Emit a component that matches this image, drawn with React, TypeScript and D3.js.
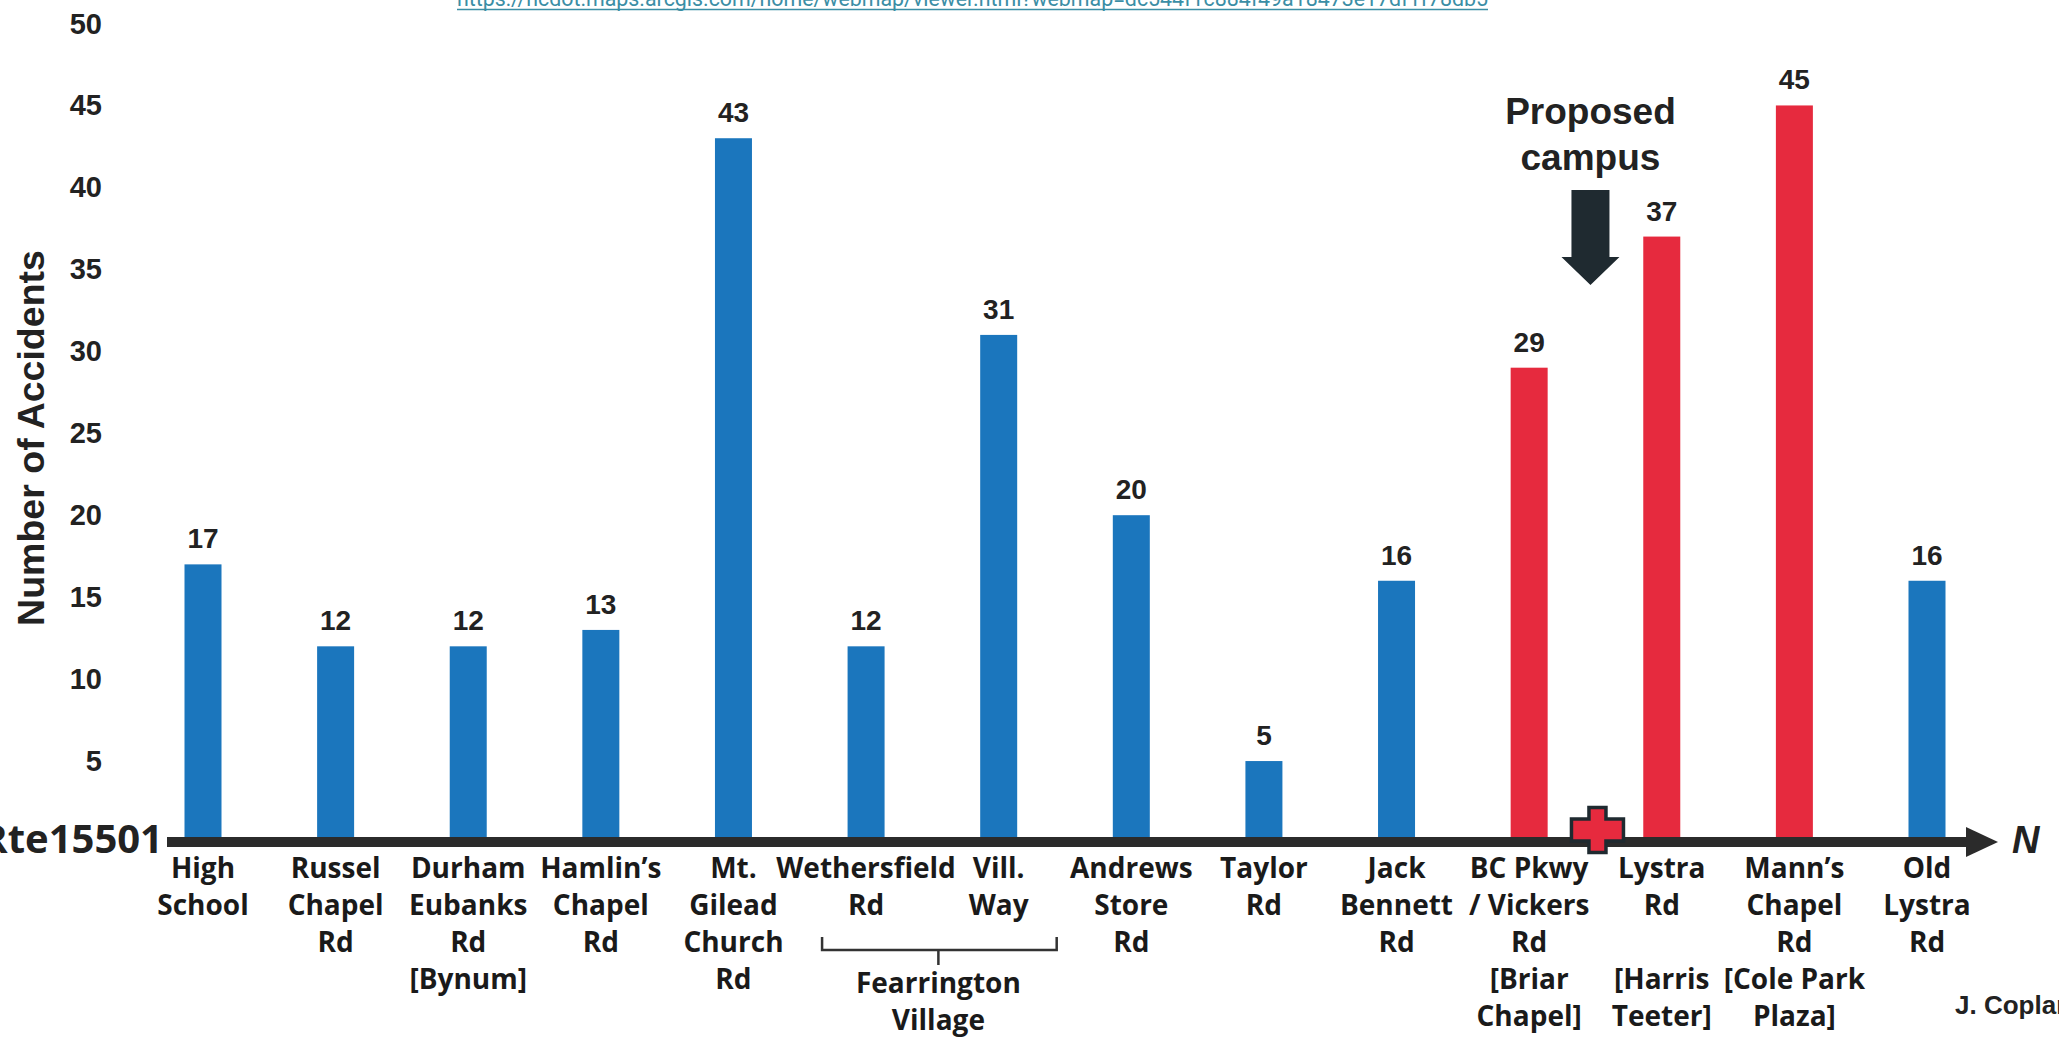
import React, { useEffect } from "react";
import * as d3 from "d3";

const categories = [
  "High School", "Russel Chapel Rd", "Durham Eubanks Rd", "Hamlin's Chapel Rd",
  "Mt. Gilead Church Rd", "Wethersfield Rd", "Vill. Way", "Andrews Store Rd",
  "Taylor Rd", "Jack Bennett Rd", "BC Pkwy / Vickers Rd", "Lystra Rd",
  "Mann's Chapel Rd", "Old Lystra Rd",
];
const labelLines: string[][] = [
  ["High", "School"],
  ["Russel", "Chapel", "Rd"],
  ["Durham", "Eubanks", "Rd", "[Bynum]"],
  ["Hamlin\u2019s", "Chapel", "Rd"],
  ["Mt.", "Gilead", "Church", "Rd"],
  ["Wethersfield", "Rd"],
  ["Vill.", "Way"],
  ["Andrews", "Store", "Rd"],
  ["Taylor", "Rd"],
  ["Jack", "Bennett", "Rd"],
  ["BC Pkwy", "/ Vickers", "Rd", "[Briar", "Chapel]"],
  ["Lystra", "Rd", "", "[Harris", "Teeter]"],
  ["Mann\u2019s", "Chapel", "Rd", "[Cole Park", "Plaza]"],
  ["Old", "Lystra", "Rd"],
];
const accidents = [17, 12, 12, 13, 43, 12, 31, 20, 5, 16, 29, 37, 45, 16];
const redCategories = ["BC Pkwy / Vickers Rd", "Lystra Rd", "Mann's Chapel Rd"];
const yTicks = [5, 10, 15, 20, 25, 30, 35, 40, 45, 50];
const groupLabel = ["Fearrington", "Village"];
const groupMembers = ["Wethersfield Rd", "Vill. Way"];
const campusBetween = ["BC Pkwy / Vickers Rd", "Lystra Rd"];
const urlText =
  "https://ncdot.maps.arcgis.com/home/webmap/viewer.html?webmap=dc544f1c884f49a18473e17df1f78db5";

const W = 2059;
const H = 1037;
const BLUE = "#1b76bd";
const RED = "#e62a3e";
const DARK = "#1f2a30";
const AXIS = "#2b2b2b";
const ARIAL = "'Liberation Sans', Arial, sans-serif";
const LABEL_FONT = "'Open Sans', sans-serif";

export default function App() {
  useEffect(() => {
    document.body.style.margin = "0";
  }, []);

  const x = d3.scalePoint<string>().domain(categories).range([203, 1927]);
  const y = d3.scaleLinear().domain([0, 50]).range([843, 23.5]);
  const barW = 37;
  const y0 = y(0);
  const axisY = y0 - 1;

  const g1 = x(groupMembers[0])!;
  const g2 = x(groupMembers[1])!;
  const gMid = (g1 + g2) / 2 + 6;
  const cMid = (x(campusBetween[0])! + x(campusBetween[1])!) / 2;

  // proposed campus arrow
  const ax = cMid - 5;
  const arrowPath = `M${ax - 19},190 H${ax + 19} V257 H${ax + 29} L${ax},285 L${ax - 29},257 H${ax - 19} Z`;

  // red cross
  const cx = cMid + 2;
  const cy = 830;
  const hw = 26, hh = 11, vw = 8.5, vh = 22.5;
  const crossPath = `M${cx - vw},${cy - vh} H${cx + vw} V${cy - hh} H${cx + hw} V${cy + hh} H${cx + vw} V${cy + vh} H${cx - vw} V${cy + hh} H${cx - hw} V${cy - hh} H${cx - vw} Z`;

  const lineStart = 167;
  const lineEnd = 1968;

  return (
    <div style={{ position: "absolute", left: 0, top: 0 }}>
      <svg width={W} height={H} viewBox={`0 0 ${W} ${H}`} style={{ display: "block", background: "#fff" }}>
        {/* URL at top (partially cut, as in the source) */}
        <text x={457} y={6} fontFamily="Roboto, sans-serif" fontSize={22} fill="#3b8ea5"
          textLength={1031} lengthAdjust="spacingAndGlyphs">{urlText}</text>
        <line x1={457} x2={1488} y1={9.5} y2={9.5} stroke="#3b8ea5" strokeWidth={1.6} />

        {/* y axis title */}
        <text transform={`translate(31,438) rotate(-90)`} textAnchor="middle" dominantBaseline="central"
          fontFamily={ARIAL} fontWeight="bold" fontSize={37.5} fill="#222">Number of Accidents</text>

        {/* y tick labels */}
        {yTicks.map((t) => (
          <text key={t} x={102} y={y(t)} textAnchor="end" dominantBaseline="central"
            fontFamily={ARIAL} fontWeight="bold" fontSize={29} fill="#222">{t}</text>
        ))}

        {/* bars */}
        {categories.map((c, i) => (
          <rect key={c} x={x(c)! - barW / 2} y={y(accidents[i])} width={barW}
            height={y0 - y(accidents[i])} fill={redCategories.includes(c) ? RED : BLUE} />
        ))}

        {/* value labels */}
        {categories.map((c, i) => (
          <text key={c} x={x(c)!} y={y(accidents[i]) - 16} textAnchor="middle"
            fontFamily={ARIAL} fontWeight="bold" fontSize={28} fill="#222">{accidents[i]}</text>
        ))}

        {/* baseline road axis with arrow */}
        <rect x={lineStart} y={axisY - 5} width={lineEnd - lineStart} height={10} fill={AXIS} />
        <path d={`M${lineEnd - 2},${axisY - 15} L${lineEnd + 30},${axisY} L${lineEnd - 2},${axisY + 15} Z`} fill={AXIS} />
        <text x={2012} y={853} fontFamily={ARIAL} fontWeight="bold" fontStyle="italic" fontSize={38} fill="#222">N</text>
        <text x={163} y={853} textAnchor="end" fontFamily={LABEL_FONT} fontWeight={700} fontSize={40} fill="#222">Rte15501</text>

        {/* red cross */}
        <path d={crossPath} fill={RED} stroke={DARK} strokeWidth={3.5} strokeLinejoin="miter" />

        {/* category labels */}
        {categories.map((c, i) => (
          <text key={c} textAnchor="middle" fontFamily={LABEL_FONT} fontWeight={700} fontSize={28} fill="#1a1a1a">
            {labelLines[i].map((l, j) => (
              <tspan key={j} x={x(c)!} y={878 + j * 37}>{l}</tspan>
            ))}
          </text>
        ))}

        {/* Fearrington bracket */}
        <path d={`M${g1 - 44},937 V950 H${g2 + 58} V937 M${gMid},950 V965`} fill="none" stroke="#333" strokeWidth={2.5} />
        <text textAnchor="middle" fontFamily={LABEL_FONT} fontWeight={700} fontSize={28} fill="#1a1a1a">
          {groupLabel.map((l, j) => (
            <tspan key={j} x={gMid} y={993 + j * 37}>{l}</tspan>
          ))}
        </text>

        {/* proposed campus annotation */}
        <text textAnchor="middle" fontFamily={ARIAL} fontWeight="bold" fontSize={37} fill="#222">
          <tspan x={cMid - 5} y={124}>Proposed</tspan>
          <tspan x={cMid - 5} y={170}>campus</tspan>
        </text>
        <path d={arrowPath} fill={DARK} />

        {/* author */}
        <text x={1955} y={1014} fontFamily={ARIAL} fontWeight="bold" fontSize={26} fill="#222">J. Coplan</text>
      </svg>
    </div>
  );
}
